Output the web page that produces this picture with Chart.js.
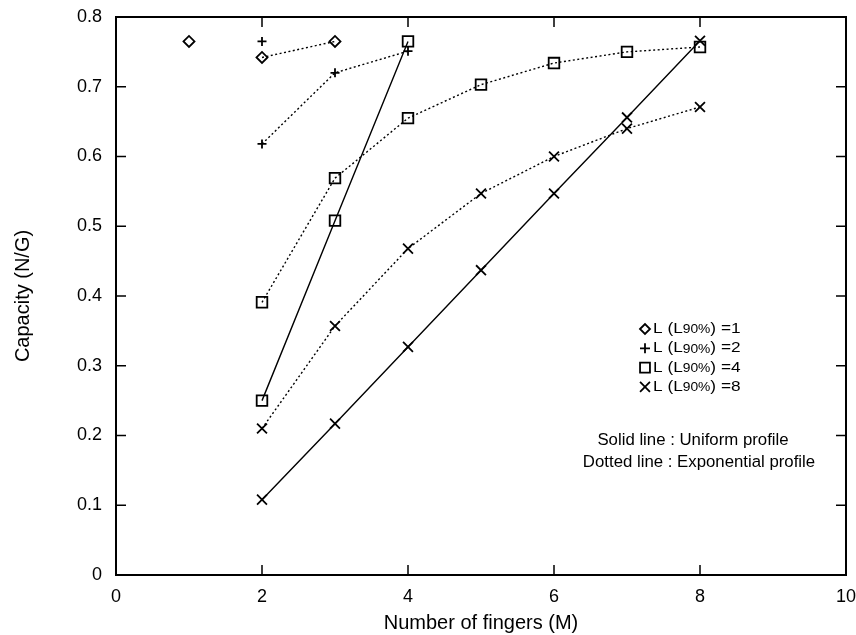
<!DOCTYPE html>
<html>
<head>
<meta charset="utf-8">
<script src="https://cdn.jsdelivr.net/npm/chart.js@4"></script>
<style>
    html, body { margin: 0; padding: 0; background: #fff; }
    #wrap { width: 856px; height: 635px; }
</style>
</head>
<body>
<div id="wrap"><canvas id="myChart" width="856" height="635"></canvas></div>
<script>
// axis ranges / ticks
const xMin = 0, xMax = 10, xStep = 2;
const yMin = 0, yMax = 0.8, yStep = 0.1;

// number of fingers (M) and capacity (N/G) per series
const mL1Uniform = [1];
const capL1Uniform = [0.765];
const mL1Exp = [2, 3];
const capL1Exp = [0.742, 0.765];

const mL2Uniform = [2];
const capL2Uniform = [0.765];
const mL2Exp = [2, 3, 4];
const capL2Exp = [0.618, 0.720, 0.751];

const mL4Uniform = [2, 3, 4];
const capL4Uniform = [0.250, 0.508, 0.765];
const mL4Exp = [2, 3, 4, 5, 6, 7, 8];
const capL4Exp = [0.391, 0.569, 0.655, 0.703, 0.734, 0.750, 0.757];

const mL8Uniform = [2, 3, 4, 5, 6, 7, 8];
const capL8Uniform = [0.108, 0.217, 0.327, 0.437, 0.547, 0.656, 0.766];
const mL8Exp = [2, 3, 4, 5, 6, 7, 8];
const capL8Exp = [0.210, 0.357, 0.468, 0.547, 0.600, 0.640, 0.671];

const legendLabels = ['1', '2', '4', '8'];
const noteLines = ['Solid line : Uniform profile', 'Dotted line : Exponential profile'];

// marker look per L value
const markers = {
    '1': { style: 'rectRot', radius: 5.5 },
    '2': { style: 'cross', radius: 4.5 },
    '4': { style: 'rect', radius: 7.5 },
    '8': { style: 'crossRot', radius: 7 }
};

function pts(xs, ys) {
    return xs.map((x, i) => ({ x: x, y: ys[i] }));
}

function series(L, xs, ys, dotted) {
    let mk = markers[L];
    return {
        label: 'L=' + L + (dotted ? ' exp' : ' uniform'),
        data: pts(xs, ys),
        showLine: true,
        borderColor: '#000',
        borderWidth: 1.4,
        borderDash: dotted ? [2, 2.5] : [],
        backgroundColor: 'transparent',
        pointStyle: mk.style,
        pointRadius: mk.radius,
        pointBorderWidth: 1.8,
        pointBorderColor: '#000',
        pointBackgroundColor: 'transparent',
        tension: 0
    };
}

const FONT = '"Liberation Sans", Arial, Helvetica, sans-serif';

const framePlugin = {
    id: 'framePlugin',
    afterDraw(chart) {
        const ctx = chart.ctx;
        const a = chart.chartArea;
        const xs = chart.scales.x, ys = chart.scales.y;
        ctx.save();
        ctx.strokeStyle = '#000';
        ctx.lineWidth = 2;
        ctx.strokeRect(a.left, a.top, a.right - a.left, a.bottom - a.top);

        // inward ticks on all sides
        ctx.lineWidth = 1.5;
        const tl = 10;
        ctx.beginPath();
        xs.ticks.forEach(t => {
            let px = xs.getPixelForValue(t.value);
            ctx.moveTo(px, a.bottom); ctx.lineTo(px, a.bottom - tl);
            ctx.moveTo(px, a.top); ctx.lineTo(px, a.top + tl);
        });
        ys.ticks.forEach(t => {
            let py = ys.getPixelForValue(t.value);
            ctx.moveTo(a.left, py); ctx.lineTo(a.left + tl, py);
            ctx.moveTo(a.right, py); ctx.lineTo(a.right - tl, py);
        });
        ctx.stroke();

        // legend
        const lx = 645, ly0 = 329, dy = 19.3;
        legendLabels.forEach((L, i) => {
            let y = ly0 + i * dy;
            let mk = markers[L];
            ctx.strokeStyle = '#000';
            ctx.fillStyle = 'transparent';
            ctx.lineWidth = 1.8;
            Chart.helpers.drawPoint(ctx, {
                pointStyle: mk.style,
                radius: L === '1' ? 5 : (L === '2' ? 5 : 7),
                borderWidth: 1.8
            }, lx, y);

            ctx.save();
            ctx.translate(653, y);
            ctx.scale(1.15, 1);
            ctx.fillStyle = '#000';
            ctx.textBaseline = 'middle';
            ctx.textAlign = 'left';
            let x = 0;
            ctx.font = '15px ' + FONT;
            ctx.fillText('L (L', x, 0);
            x += ctx.measureText('L (L').width;
            ctx.font = '12px ' + FONT;
            ctx.fillText('90%', x, 1);
            x += ctx.measureText('90%').width;
            ctx.font = '15px ' + FONT;
            ctx.fillText(') =' + L, x, 0);
            ctx.restore();
        });

        // line-style notes
        ctx.fillStyle = '#000';
        ctx.font = '16.8px ' + FONT;
        ctx.textAlign = 'center';
        ctx.textBaseline = 'middle';
        ctx.fillText(noteLines[0], 693, 440);
        ctx.fillText(noteLines[1], 699, 462);
        ctx.restore();
    }
};

const data = {
    datasets: [
        series('1', mL1Uniform, capL1Uniform, false),
        series('1', mL1Exp, capL1Exp, true),
        series('2', mL2Uniform, capL2Uniform, false),
        series('2', mL2Exp, capL2Exp, true),
        series('4', mL4Uniform, capL4Uniform, false),
        series('4', mL4Exp, capL4Exp, true),
        series('8', mL8Uniform, capL8Uniform, false),
        series('8', mL8Exp, capL8Exp, true)
    ]
};

var myChart = new Chart('myChart', {
    type: 'scatter',
    data: data,
    plugins: [framePlugin],
    options: {
        responsive: false,
        animation: false,
        devicePixelRatio: 1,
        layout: { padding: { top: 17, right: 10, left: 0, bottom: 0 } },
        plugins: {
            legend: { display: false },
            tooltip: { enabled: false }
        },
        scales: {
            x: {
                type: 'linear',
                min: xMin, max: xMax,
                grid: { display: false, drawTicks: false },
                border: { display: false },
                ticks: {
                    stepSize: xStep,
                    color: '#000',
                    padding: 11,
                    font: { family: FONT, size: 18 }
                },
                title: {
                    display: true,
                    text: 'Number of fingers (M)',
                    color: '#000',
                    padding: { top: -5, bottom: 0 },
                    font: { family: FONT, size: 20 }
                },
                afterFit(scale) {
                    scale.height = 60;
                    scale.paddingRight = 0;
                    scale.paddingLeft = 0;
                }
            },
            y: {
                type: 'linear',
                min: yMin, max: yMax,
                grid: { display: false, drawTicks: false },
                border: { display: false },
                ticks: {
                    stepSize: yStep,
                    color: '#000',
                    padding: 14,
                    font: { family: FONT, size: 18 },
                    callback: v => v === 0 ? '0' : v.toFixed(1)
                },
                title: {
                    display: true,
                    text: 'Capacity (N/G)',
                    color: '#000',
                    padding: { top: 11, bottom: 0 },
                    font: { family: FONT, size: 20 }
                },
                afterFit(scale) {
                    scale.width = 116;
                    scale.paddingTop = 0;
                    scale.paddingBottom = 0;
                }
            }
        }
    }
});
</script>
</body>
</html>
